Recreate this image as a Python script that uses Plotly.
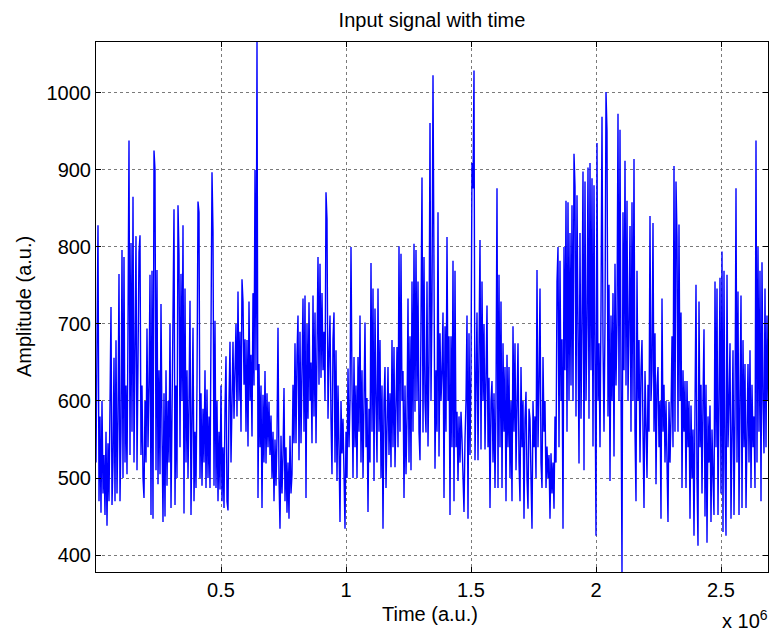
import numpy as np
import plotly.graph_objects as go

# Recorded amplitude samples (a.u.), one every sample_period time units
amplitude = [
    520, 737, 828, 470, 580, 455, 600, 480, 530, 452,
    560, 438, 545, 470, 590, 722, 465, 520, 656, 470,
    679, 480, 575, 765, 470, 560, 796, 500, 787, 520,
    620, 505, 700, 938, 530, 805, 560, 865, 520, 640,
    814, 510, 650, 793, 815, 530, 620, 500, 474, 600,
    520, 694, 540, 620, 764, 452, 769, 447, 925, 900,
    510, 770, 492, 640, 505, 726, 560, 443, 610, 450,
    640, 490, 600, 520, 700, 461, 580, 773, 849, 465,
    620, 500, 854, 790, 540, 765, 600, 828, 454, 746,
    520, 640, 500, 600, 730, 452, 580, 695, 470, 560,
    487, 620, 859, 845, 500, 610, 490, 590, 520, 640,
    487, 615, 500, 580, 487, 700, 897, 820, 490, 704,
    487, 600, 470, 560, 485, 620, 470, 540, 461, 590,
    658, 470, 458, 600, 677, 520, 640, 677, 577, 640,
    700, 580, 742, 600, 690, 560, 758, 729, 621, 680,
    560, 679, 541, 729, 600, 660, 554, 740, 620, 900,
    640, 1066, 474, 648, 540, 620, 461, 608, 520, 639,
    519, 610, 540, 599, 530, 581, 500, 560, 470, 550,
    490, 555, 695, 500, 434, 555, 480, 530, 617, 470,
    540, 455, 520, 447, 555, 480, 505, 621, 545, 675,
    545, 660, 711, 523, 690, 545, 679, 733, 560, 737,
    474, 700, 577, 728, 600, 650, 545, 737, 580, 715,
    545, 700, 787, 621, 778, 630, 740, 640, 690, 600,
    871, 836, 577, 660, 711, 577, 505, 680, 715, 520,
    666, 496, 620, 540, 443, 600, 532, 577, 500, 434,
    560, 500, 642, 540, 600, 800, 621, 500, 657, 540,
    620, 500, 657, 560, 711, 520, 640, 500, 600, 702,
    540, 604, 456, 590, 520, 779, 560, 746, 496, 720,
    600, 520, 746, 560, 679, 500, 620, 434, 600, 644,
    487, 600, 644, 530, 610, 514, 679, 540, 670, 514,
    620, 670, 540, 801, 560, 791, 600, 639, 474, 620,
    505, 577, 733, 520, 684, 510, 755, 560, 804, 586,
    796, 600, 755, 560, 523, 688, 890, 559, 787, 600,
    559, 755, 541, 650, 961, 600, 729, 1023, 653, 512,
    640, 560, 845, 528, 688, 600, 639, 715, 474, 697,
    560, 813, 600, 684, 452, 684, 540, 782, 470, 769,
    540, 586, 496, 580, 520, 586, 550, 480, 456, 550,
    600, 711, 447, 688, 530, 640, 909, 876, 1029, 523,
    650, 715, 523, 640, 809, 537, 755, 600, 700, 537,
    620, 724, 540, 630, 461, 600, 626, 520, 610, 487,
    600, 876, 487, 764, 540, 729, 487, 675, 560, 644,
    470, 660, 540, 644, 500, 600, 470, 697, 560, 675,
    510, 620, 675, 520, 470, 644, 540, 600, 447, 577,
    612, 500, 460, 590, 577, 500, 434, 600, 540, 580,
    500, 770, 540, 620, 746, 520, 487, 657, 560, 600,
    487, 541, 500, 530, 447, 532, 480, 520, 460, 580,
    520, 755, 800, 540, 782, 600, 680, 434, 800, 640,
    860, 560, 858, 600, 818, 620, 854, 600, 921, 878,
    580, 867, 620, 519, 818, 577, 700, 898, 510, 885,
    600, 700, 903, 577, 909, 640, 889, 541, 880, 620,
    425, 935, 600, 675, 540, 720, 969, 675, 560, 700,
    1001, 950, 580, 751, 496, 711, 600, 740, 528, 778,
    620, 702, 973, 600, 952, 621, 378, 845, 640, 912,
    620, 860, 600, 700, 827, 560, 858, 600, 914, 560,
    470, 769, 600, 679, 520, 640, 679, 560, 461, 639,
    580, 500, 621, 560, 840, 600, 640, 831, 560, 688,
    492, 620, 644, 540, 600, 447, 733, 560, 621, 520,
    600, 540, 443, 599, 520, 580, 684, 540, 905, 560,
    885, 813, 560, 829, 600, 715, 487, 640, 560, 626,
    487, 626, 540, 600, 447, 594, 500, 563, 425, 590,
    751, 500, 412, 729, 540, 621, 480, 600, 693, 450,
    621, 416, 580, 520, 594, 443, 563, 500, 452, 755,
    540, 746, 452, 600, 760, 480, 794, 430, 769, 520,
    425, 764, 540, 600, 675, 447, 560, 666, 452, 580,
    876, 520, 742, 452, 600, 737, 461, 679, 540, 648,
    461, 600, 648, 520, 666, 487, 621, 540, 580, 487,
    938, 520, 800, 560, 769, 470, 780, 600, 532, 746,
    540, 711, 600,
]
sample_period = 4000  # time units between samples

x_tick_values = [0.5e6, 1.0e6, 1.5e6, 2.0e6, 2.5e6]
x_tick_labels = ["0.5", "1", "1.5", "2", "2.5"]
y_tick_values = [400, 500, 600, 700, 800, 900, 1000]

time = np.arange(len(amplitude)) * sample_period

FONT = "Liberation Sans, Arial, Helvetica, sans-serif"
FS = 20
W, H = 769, 635
ML, MR, MT, MB = 96, 1, 42, 63
PW, PH = W - ML - MR, H - MT - MB

fig = go.Figure()
fig.add_trace(go.Scatter(
    x=time, y=amplitude, mode="lines",
    line=dict(color="#0000ff", width=1.4),
    hoverinfo="skip", showlegend=False,
))

axis_common = dict(
    showline=True, linecolor="black", linewidth=1, mirror="ticks",
    ticks="inside", ticklen=5, tickcolor="black", tickwidth=1,
    showgrid=True, gridcolor="#7a7a7a", griddash="dot", gridwidth=1,
    zeroline=False, tickfont=dict(family=FONT, size=FS, color="black"),
)

fig.update_layout(
    width=W, height=H,
    margin=dict(l=ML, r=MR, t=MT, b=MB),
    paper_bgcolor="white", plot_bgcolor="white",
    font=dict(family=FONT, size=FS, color="black"),
    title=dict(
        text="Input signal with time", x=0.5, xref="paper",
        y=1 - 20 / H, yref="container", yanchor="middle",
        font=dict(family=FONT, size=FS, color="black"),
    ),
    xaxis=dict(
        range=[0, time[-1]], tickvals=x_tick_values, ticktext=x_tick_labels,
        **axis_common,
    ),
    yaxis=dict(
        range=[min(amplitude), max(amplitude)], tickvals=y_tick_values,
        **axis_common,
    ),
    annotations=[
        dict(text="Time (a.u.)", xref="paper", yref="paper",
             x=(430 - ML) / PW, y=-(614 - 572) / PH,
             xanchor="center", yanchor="middle", showarrow=False,
             font=dict(family=FONT, size=FS, color="black")),
        dict(text="Amplitude (a.u.)", xref="paper", yref="paper",
             x=-(ML - 24) / PW, y=(572 - 307) / PH,
             xanchor="center", yanchor="middle", textangle=-90, showarrow=False,
             font=dict(family=FONT, size=FS, color="black")),
        dict(text="x 10<sup>6</sup>", xref="paper", yref="paper",
             x=(720 - ML) / PW, y=-(619 - 572) / PH,
             xanchor="left", yanchor="middle", showarrow=False,
             font=dict(family=FONT, size=FS, color="black")),
    ],
)

fig.write_html("out.html")
